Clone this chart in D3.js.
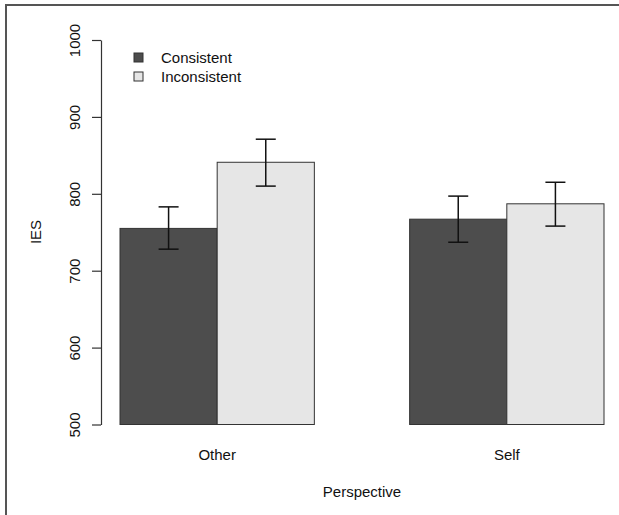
<!DOCTYPE html>
<html>
<head>
<meta charset="utf-8">
<script src="https://cdn.jsdelivr.net/npm/d3@7"></script>
<style>
  body { margin: 0; background: #fff; overflow: hidden; }
  text { font-family: "Liberation Sans", Arial, sans-serif; fill: #111; }
</style>
</head>
<body>
<script>
//data
var categories = ["Other", "Self"];
var series = ["Consistent", "Inconsistent"];
var means = [[755, 841], [767, 787]];   //[category][series]
var lower = [[728, 810], [737, 758]];
var upper = [[783, 871], [797, 815]];
var yTicks = [500, 600, 700, 800, 900, 1000];
var fills = ["#4d4d4d", "#e6e6e6"];

var w = 619, h = 515;
var fs = "15px";

var svg = d3.select("body").append("svg")
    .attr("width", w)
    .attr("height", h)
    .style("display", "block");

//frame round the figure (cut off at the right and bottom)
svg.append("rect")
    .attr("x", 6).attr("y", 5)
    .attr("width", 700).attr("height", 700)
    .style("fill", "none")
    .style("stroke", "#555")
    .style("stroke-width", 2);

//scales
var y = d3.scaleLinear()
    .domain([500, 1000])
    .range([424.5, 40]);

var x0 = d3.scaleBand()
    .domain(categories)
    .range([120, 604])
    .paddingInner(0.329)
    .paddingOuter(0);

var x1 = d3.scaleBand()
    .domain(series)
    .range([0, x0.bandwidth()]);

//bars
var groups = svg.selectAll(".group")
    .data(categories)
    .enter()
    .append("g")
    .attr("class", "group")
    .attr("transform", function(d){ return "translate(" + x0(d) + ",0)"; });

var cells = groups.selectAll(".cell")
    .data(function(d, i){
        return series.map(function(s, j){
            return { s: s, j: j, m: means[i][j], lo: lower[i][j], hi: upper[i][j] };
        });
    })
    .enter()
    .append("g")
    .attr("class", "cell");

cells.append("rect")
    .attr("x", function(d){ return x1(d.s); })
    .attr("y", function(d){ return y(d.m); })
    .attr("width", x1.bandwidth())
    .attr("height", function(d){ return y(500) - y(d.m); })
    .style("fill", function(d){ return fills[d.j]; })
    .style("stroke", "#333")
    .style("stroke-width", 1);

//error bars
var cap = 10;
cells.append("line")
    .attr("x1", function(d){ return x1(d.s) + x1.bandwidth() / 2; })
    .attr("x2", function(d){ return x1(d.s) + x1.bandwidth() / 2; })
    .attr("y1", function(d){ return y(d.lo); })
    .attr("y2", function(d){ return y(d.hi); })
    .style("stroke", "#111").style("stroke-width", 1.5);

["lo", "hi"].forEach(function(k){
    cells.append("line")
        .attr("x1", function(d){ return x1(d.s) + x1.bandwidth() / 2 - cap; })
        .attr("x2", function(d){ return x1(d.s) + x1.bandwidth() / 2 + cap; })
        .attr("y1", function(d){ return y(d[k]); })
        .attr("y2", function(d){ return y(d[k]); })
        .style("stroke", "#111").style("stroke-width", 1.5);
});

//y axis
var yAxis = d3.axisLeft(y)
    .tickValues(yTicks)
    .tickFormat(d3.format("d"))
    .tickSize(9)
    .tickSizeOuter(0);

var axis = svg.append("g")
    .attr("class", "axis")
    .attr("transform", "translate(101,0)")
    .call(yAxis);

axis.select(".domain").style("stroke", "#333").style("stroke-width", 1.2);
axis.selectAll(".tick line").style("stroke", "#333").style("stroke-width", 1.2);
axis.selectAll(".tick text")
    .attr("x", null).attr("dy", null)
    .attr("transform", "translate(-21,0) rotate(-90)")
    .attr("text-anchor", "middle")
    .style("font-size", fs)
    .style("font-family", "'Liberation Sans', Arial, sans-serif")
    .style("fill", "#111");

//category labels
svg.selectAll(".catLabel")
    .data(categories)
    .enter()
    .append("text")
    .attr("class", "catLabel")
    .attr("x", function(d){ return x0(d) + x0.bandwidth() / 2; })
    .attr("y", 460)
    .attr("text-anchor", "middle")
    .style("font-size", fs)
    .text(function(d){ return d; });

//axis titles
svg.append("text")
    .attr("x", 362).attr("y", 497)
    .attr("text-anchor", "middle")
    .style("font-size", fs)
    .text("Perspective");

svg.append("text")
    .attr("transform", "translate(41,232) rotate(-90)")
    .attr("text-anchor", "middle")
    .style("font-size", fs)
    .text("IES");

//legend
var legend = svg.selectAll(".legend")
    .data(series)
    .enter()
    .append("g")
    .attr("class", "legend")
    .attr("transform", function(d, i){ return "translate(134," + (53 + i * 19) + ")"; });

legend.append("rect")
    .attr("width", 9).attr("height", 9)
    .style("fill", function(d, i){ return fills[i]; })
    .style("stroke", "#333");

legend.append("text")
    .attr("x", 27).attr("y", 10)
    .style("font-size", fs)
    .text(function(d){ return d; });
</script>
</body>
</html>
